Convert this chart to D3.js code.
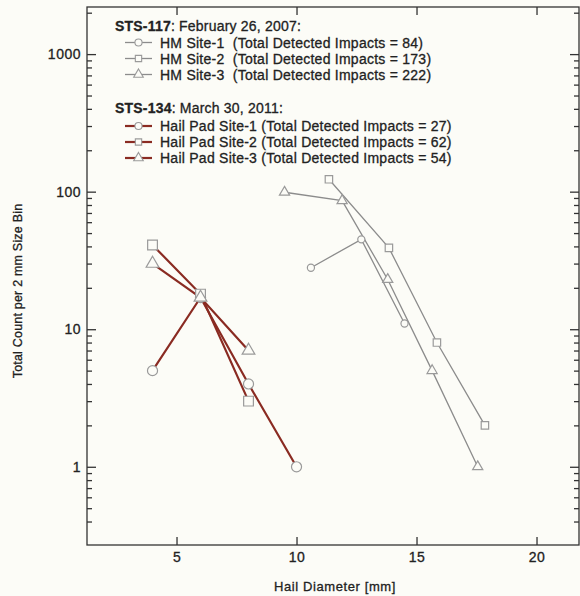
<!DOCTYPE html>
<html>
<head>
<meta charset="utf-8">
<script src="https://cdn.jsdelivr.net/npm/d3@7"></script>
<style>
  body { margin: 0; background: #fcfcf7; }
  text { font-family: Arial, "Liberation Sans", Helvetica, sans-serif; fill: #222;
         stroke: #222; stroke-width: 0.3; white-space: pre; }
</style>
</head>
<body>
<svg width="580" height="596"></svg>
<script>
// STS-117 hail monitor sites (gray)
var hmSite1X = [10.6, 12.7, 14.5];
var hmSite1Y = [28, 45, 11];
var hmSite2X = [11.35, 13.85, 15.85, 17.85];
var hmSite2Y = [123, 39, 8, 2];
var hmSite3X = [9.5, 11.9, 13.8, 15.65, 17.55];
var hmSite3Y = [99, 86, 23, 5, 1];

// STS-134 hail pad sites (red)
var padSite1X = [4, 6, 8, 10];
var padSite1Y = [5, 17, 4, 1];
var padSite2X = [4, 6, 8];
var padSite2Y = [41, 18, 3];
var padSite3X = [4, 6, 8];
var padSite3Y = [30, 17, 7];

var xTicks = [5, 10, 15, 20];
var yTicks = [1, 10, 100, 1000];
var yMinor = [0.4, 0.5, 0.6, 0.7, 0.8, 0.9, 2, 3, 4, 5, 6, 7, 8, 9, 20, 30, 40, 50, 60, 70, 80, 90,
              200, 300, 400, 500, 600, 700, 800, 900, 2000];

var hmLabels = ["HM Site-1  (Total Detected Impacts = 84)",
                "HM Site-2  (Total Detected Impacts = 173)",
                "HM Site-3  (Total Detected Impacts = 222)"];
var padLabels = ["Hail Pad Site-1 (Total Detected Impacts = 27)",
                 "Hail Pad Site-2 (Total Detected Impacts = 62)",
                 "Hail Pad Site-3 (Total Detected Impacts = 54)"];

var svg = d3.select("svg");

var plotL = 87, plotR = 579, plotT = 7, plotB = 545;

var x = d3.scaleLinear().domain([1.27, 21.77]).range([plotL, plotR]);
var y = d3.scaleLog().domain([0.27, 2200]).range([plotB, plotT]);

var gray = "#8c8c8c";
var red = "#8a2b22";
var markGray = "#9a9a9a";
var bg = "#fcfcf7";

// frame
svg.append("rect")
   .attr("x", plotL).attr("y", plotT)
   .attr("width", plotR - plotL).attr("height", plotB - plotT)
   .attr("fill", "none").attr("stroke", "#333").attr("stroke-width", 1.3);

function styleAxis(g) {
  g.select(".domain").remove();
  g.selectAll("line").attr("stroke", "#333").attr("stroke-width", 1.3);
  g.selectAll("text").attr("font-size", 14).attr("fill", "#222")
   .attr("letter-spacing", 0.5)
   .attr("font-family", "Arial, 'Liberation Sans', sans-serif");
}

svg.append("g").attr("transform", "translate(" + plotL + ",0)")
   .call(d3.axisLeft(y).tickValues(yTicks).tickSize(-9).tickPadding(6)
         .tickFormat(d3.format("d")))
   .call(styleAxis);
svg.append("g").attr("transform", "translate(" + plotL + ",0)")
   .call(d3.axisLeft(y).tickValues(yMinor).tickSize(-5).tickFormat(""))
   .call(styleAxis);
svg.append("g").attr("transform", "translate(" + plotR + ",0)")
   .call(d3.axisRight(y).tickValues(yTicks).tickSize(-9).tickFormat(""))
   .call(styleAxis);
svg.append("g").attr("transform", "translate(" + plotR + ",0)")
   .call(d3.axisRight(y).tickValues(yMinor).tickSize(-5).tickFormat(""))
   .call(styleAxis);

svg.append("g").attr("transform", "translate(0," + plotB + ")")
   .call(d3.axisBottom(x).tickValues(xTicks).tickSize(-8).tickPadding(7))
   .call(styleAxis);
svg.append("g").attr("transform", "translate(0," + plotT + ")")
   .call(d3.axisTop(x).tickValues(xTicks).tickSize(-8).tickFormat(""))
   .call(styleAxis);

svg.append("text")
   .attr("x", (plotL + plotR) / 2 + 2).attr("y", 591)
   .attr("text-anchor", "middle").attr("font-size", 13).attr("letter-spacing", 0.6)
   .text("Hail Diameter [mm]");

svg.append("text")
   .attr("transform", "translate(22,291) rotate(-90)")
   .attr("text-anchor", "middle").attr("font-size", 12.5).attr("letter-spacing", 0.2)
   .text("Total Count per 2 mm Size Bin");

var line = d3.line()
  .x(function(d) { return x(d[0]); })
  .y(function(d) { return y(d[1]); });

var series = [
  {xs: hmSite1X, ys: hmSite1Y, color: gray, width: 1.3, sym: d3.symbolCircle, size: 40},
  {xs: hmSite2X, ys: hmSite2Y, color: gray, width: 1.3, sym: d3.symbolSquare, size: 55},
  {xs: hmSite3X, ys: hmSite3Y, color: gray, width: 1.3, sym: d3.symbolTriangle, size: 45},
  {xs: padSite1X, ys: padSite1Y, color: red, width: 2.2, sym: d3.symbolCircle, size: 80},
  {xs: padSite2X, ys: padSite2Y, color: red, width: 2.2, sym: d3.symbolSquare, size: 95},
  {xs: padSite3X, ys: padSite3Y, color: red, width: 2.2, sym: d3.symbolTriangle, size: 70}
];

series.forEach(function(s) {
  var pts = s.xs.map(function(v, i) { return [v, s.ys[i]]; });
  svg.append("path")
     .datum(pts)
     .attr("d", line)
     .attr("fill", "none")
     .attr("stroke", s.color)
     .attr("stroke-width", s.width);
});

series.forEach(function(s) {
  var pts = s.xs.map(function(v, i) { return [v, s.ys[i]]; });
  svg.selectAll(null)
     .data(pts)
     .enter()
     .append("path")
     .attr("transform", function(d) { return "translate(" + x(d[0]) + "," + y(d[1]) + ")"; })
     .attr("d", d3.symbol().type(s.sym).size(s.size))
     .attr("fill", bg)
     .attr("stroke", markGray)
     .attr("stroke-width", 1.2);
});

// legend
var legend = svg.append("g");

var h1 = legend.append("text").attr("x", 115).attr("y", 31)
               .attr("font-size", 14).attr("letter-spacing", 0.2);
h1.append("tspan").attr("font-weight", "bold").text("STS-117");
h1.append("tspan").text(": February 26, 2007:");

var h2 = legend.append("text").attr("x", 115).attr("y", 113)
               .attr("font-size", 14).attr("letter-spacing", 0.2);
h2.append("tspan").attr("font-weight", "bold").text("STS-134");
h2.append("tspan").text(": March 30, 2011:");

function legendRow(label, cy, s) {
  legend.append("line")
        .attr("x1", 125).attr("x2", 152).attr("y1", cy).attr("y2", cy)
        .attr("stroke", s.color).attr("stroke-width", s.width);
  legend.append("path")
        .attr("transform", "translate(138.5," + cy + ")")
        .attr("d", d3.symbol().type(s.sym).size(40))
        .attr("fill", bg).attr("stroke", markGray).attr("stroke-width", 1.1);
  legend.append("text").attr("x", 160).attr("y", cy + 5)
        .attr("font-size", 14).attr("letter-spacing", 0.25).text(label);
}

hmLabels.forEach(function(l, i) { legendRow(l, 42.5 + i * 16, series[i]); });
padLabels.forEach(function(l, i) { legendRow(l, 126 + i * 16, series[i + 3]); });
</script>
</body>
</html>
